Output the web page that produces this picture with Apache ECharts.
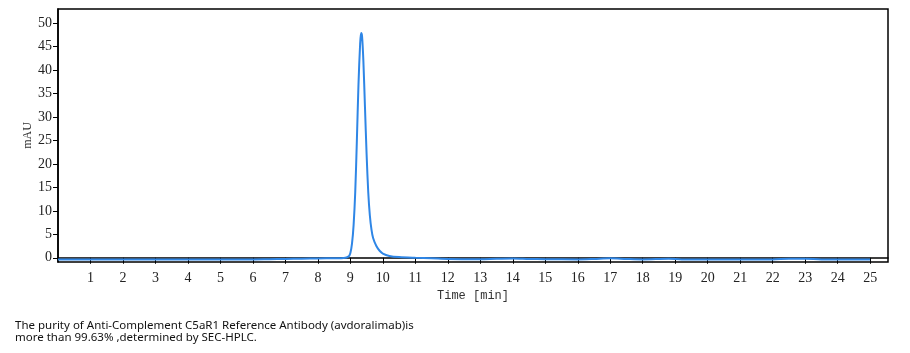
<!DOCTYPE html>
<html>
<head>
<meta charset="utf-8">
<script src="https://cdn.jsdelivr.net/npm/echarts@6/dist/echarts.min.js"></script>
<style>html,body{margin:0;padding:0;background:#fff}#c{width:910px;height:353px}</style>
</head>
<body>
<div id="c"></div>
<script>
// Retention time (min) and absorbance (mAU)
const timeMin = [0, 1, 2, 3, 4, 5, 6, 6.5, 7, 7.5, 8, 8.5, 8.8, 8.95, 9.0, 9.05, 9.1, 9.15, 9.2, 9.25, 9.3, 9.33, 9.36, 9.4, 9.45, 9.5, 9.55, 9.6, 9.65, 9.7, 9.8, 9.9, 10.0, 10.2, 10.5, 11, 11.5, 12, 13, 13.5, 14, 14.5, 15, 16, 16.5, 17, 17.5, 18, 18.8, 19.2, 20, 21, 22, 22.5, 23, 23.5, 24, 25];
const mAU = [-0.35, -0.35, -0.35, -0.35, -0.35, -0.35, -0.35, -0.3, -0.25, -0.2, -0.15, -0.1, -0.05, 0.3, 1.0, 3.0, 7.0, 14, 25, 37, 45.5, 47.9, 47.2, 42, 32, 22, 14, 9, 6, 4.2, 2.5, 1.5, 0.9, 0.4, 0.15, 0, -0.1, -0.25, -0.3, -0.2, -0.15, -0.25, -0.3, -0.35, -0.25, -0.1, -0.25, -0.35, -0.2, -0.35, -0.35, -0.35, -0.35, -0.2, -0.2, -0.35, -0.35, -0.35];
const xTicks = [1,2,3,4,5,6,7,8,9,10,11,12,13,14,15,16,17,18,19,20,21,22,23,24,25];
const yTicks = [0,5,10,15,20,25,30,35,40,45,50];
const xTitle = 'Time [min]';
const yTitle = 'mAU';
const caption = 'The purity of Anti-Complement C5aR1 Reference Antibody (avdoralimab)is\nmore than 99.63% ,determined by SEC-HPLC.';

const points = timeMin.map((t, i) => [t, mAU[i]]);
const chart = echarts.init(document.getElementById('c'), null, {renderer: 'canvas'});
const serif = "'Liberation Serif', 'DejaVu Serif', serif";
chart.setOption({
  animation: false,
  backgroundColor: '#fff',
  title: {
    text: caption,
    left: 15, top: 320, padding: 0,
    textStyle: {fontFamily: "'Noto Sans', 'DejaVu Sans', sans-serif", fontSize: 11.5, fontWeight: 'normal', color: '#111', lineHeight: 12}
  },
  grid: {left: 58, right: 22, top: 9, bottom: 91, show: true, borderColor: '#000', borderWidth: 1.5, backgroundColor: 'transparent'},
  xAxis: {
    type: 'value', min: 0, max: 25.55,
    name: xTitle, nameLocation: 'middle', nameGap: 28, nameMoveOverlap: false,
    nameTextStyle: {fontFamily: "'Liberation Mono', monospace", fontSize: 12, color: '#333'},
    axisLine: {show: true, lineStyle: {color: '#000', width: 1.5}},
    axisTick: {show: true, customValues: xTicks, length: 6, lineStyle: {color: '#000', width: 1}},
    axisLabel: {customValues: xTicks, margin: 9, fontFamily: serif, fontSize: 14, color: '#222'},
    splitLine: {show: false}
  },
  yAxis: {
    type: 'value', min: -0.9, max: 53,
    name: yTitle, nameLocation: 'middle', nameGap: 24, nameRotate: 90, nameMoveOverlap: false,
    nameTextStyle: {fontFamily: serif, fontSize: 12, color: '#333'},
    axisLine: {show: true, lineStyle: {color: '#000', width: 1.5}},
    axisTick: {show: true, customValues: yTicks, length: 5, lineStyle: {color: '#000', width: 1}},
    axisLabel: {customValues: yTicks, margin: 6, fontFamily: serif, fontSize: 14, color: '#222'},
    splitLine: {show: false}
  },
  series: [{
    type: 'line', data: points, showSymbol: false, smooth: 0.3,
    lineStyle: {color: '#2f86e6', width: 2}
  }]
});
</script>
</body>
</html>
